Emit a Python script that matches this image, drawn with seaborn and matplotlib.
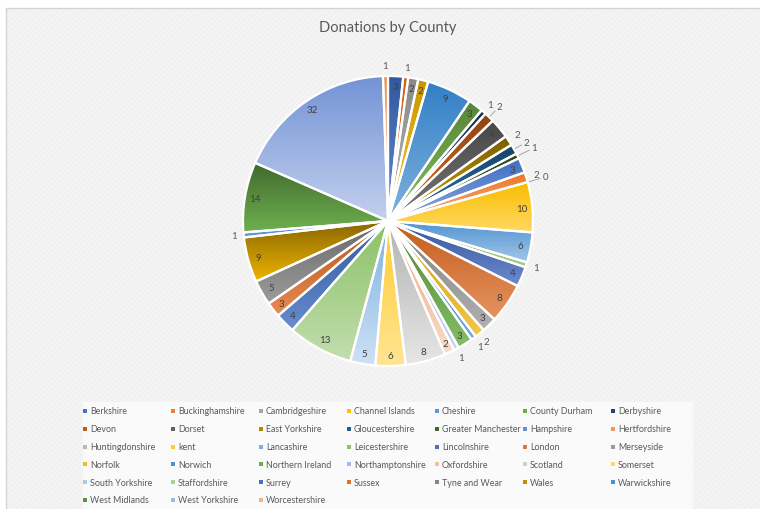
import colorsys
import numpy as np
import seaborn as sns
import matplotlib.pyplot as plt
from matplotlib.patches import Rectangle
from matplotlib.colors import to_rgb

# Donations per county (legend order = slice order, clockwise from 12 o'clock)
counties = [
    "Berkshire", "Buckinghamshire", "Cambridgeshire", "Channel Islands", "Cheshire",
    "County Durham", "Derbyshire", "Devon", "Dorset", "East Yorkshire",
    "Gloucestershire", "Greater Manchester", "Hampshire", "Hertfordshire",
    "Huntingdonshire", "kent", "Lancashire", "Leicestershire", "Lincolnshire",
    "London", "Merseyside", "Norfolk", "Norwich", "Northern Ireland",
    "Northamptonshire", "Oxfordshire", "Scotland", "Somerset", "South Yorkshire",
    "Staffordshire", "Surrey", "Sussex", "Tyne and Wear", "Wales", "Warwickshire",
    "West Midlands", "West Yorkshire", "Worcestershire",
]
donations = [
    3, 1, 2, 2, 9, 3, 1, 2, 4, 2,
    2, 1, 3, 2, 0, 10, 6, 1, 4, 8,
    3, 2, 1, 3, 1, 2, 8, 6, 5, 13,
    4, 3, 5, 9, 1, 14, 32, 1,
]

# Office-style palette (mid tone of each slice's gradient)
palette = [
    "#4472C4", "#ED7D31", "#A5A5A5", "#FFC000", "#5B9BD5", "#70AD47",
    "#264478", "#C05A1A", "#636363", "#B08800", "#255E91", "#43682B",
    "#698ED0", "#F1975A", "#B7B7B7", "#FFCD33", "#7CAFDD", "#8CC168",
    "#4A6FC0", "#E07838", "#9A9A9A", "#F0BA20", "#4D90D8", "#6AAE48",
    "#A5B8E6", "#F6C0A0", "#CFCFCF", "#FFD966", "#A8CBEB", "#A9D18E",
    "#4472C4", "#E0702A", "#858585", "#BF9000", "#4A8FD6", "#5A9040",
    "#9FB5E3", "#F4B183",
]


def shade(c, dl):
    h, l, s = colorsys.rgb_to_hls(*to_rgb(c))
    return np.array(colorsys.hls_to_rgb(h, min(max(l + dl, 0), 1), s))


sns.set_theme(style="white")
plt.rcParams["font.family"] = ["Lato", "DejaVu Sans"]
plt.rcParams["hatch.linewidth"] = 0.6

W, H = 760, 510
fig = plt.figure(figsize=(W / 100, H / 100), dpi=100)
fig.patch.set_facecolor("white")

# chart area background with fine diagonal pattern
x0, ytop = 6 / W, 1 - 9 / H
fig.add_artist(Rectangle((x0, 0), 1 - x0, ytop, transform=fig.transFigure,
                         facecolor="#F1F1F1", edgecolor="#F9F9F9", hatch="//////",
                         linewidth=0, zorder=0))
fig.add_artist(Rectangle((x0, -0.01), 1.01 - x0, ytop + 0.01, transform=fig.transFigure,
                         facecolor="none", edgecolor="#D4D4D4", linewidth=1, zorder=0.5))

# legend panel
fig.add_artist(Rectangle((83 / W, 0), 610 / W, 1 - 403 / H, transform=fig.transFigure,
                         facecolor="#FAFAFA", edgecolor="none", zorder=0.6))

# pie axes: centre (388, 222) px, radius 145 px
cx, cy, r, half = 388, 222, 145, 170
ax = fig.add_axes([(cx - half) / W, (H - cy - half) / H, 2 * half / W, 2 * half / H])
ax.axis("off")

wedges, _ = ax.pie(donations, colors=palette, startangle=90, counterclock=False,
                   radius=1.0, wedgeprops=dict(edgecolor="white", linewidth=1.6))

# vertical gradient in each slice, darker at the top
t = np.linspace(0, 1, 64)[:, None]
for w, c in zip(wedges, palette):
    if w.theta2 - w.theta1 <= 0:
        continue
    top, bot = shade(c, -0.11), shade(c, 0.09)
    img = (top * (1 - t) + bot * t)[:, None, :]
    bb = w.get_path().get_extents()
    im = ax.imshow(img, extent=[bb.x0, bb.x1, bb.y0, bb.y1], origin="upper",
                   interpolation="bilinear", zorder=1)
    im.set_clip_path(w)
    w.set_facecolor("none")
    w.set_zorder(2)

lim = half / r
ax.set_xlim(-lim, lim)
ax.set_ylim(-lim, lim)
ax.set_aspect("equal")

placed = []
for w, v in zip(wedges, donations):
    ang = np.deg2rad((w.theta1 + w.theta2) / 2)
    ca, sa = np.cos(ang), np.sin(ang)
    if v >= 3 or (v == 2 and abs(ca) < 0.5):
        ax.text(0.93 * ca, 0.93 * sa, str(v), ha="center", va="center",
                fontsize=7, color="#404040", zorder=3)
        continue
    rr = 1.07
    while any(abs(rr * ca - px) < 0.042 and abs(rr * sa - py) < 0.065 for px, py in placed):
        rr += 0.03
    placed.append((rr * ca, rr * sa))
    if rr > 1.08:
        ax.plot([1.01 * ca, (rr - 0.04) * ca], [1.01 * sa, (rr - 0.04) * sa],
                color="#A6A6A6", lw=0.7, zorder=3)
    ax.text(rr * ca, rr * sa, str(v), ha="center", va="center",
            fontsize=7, color="#595959", zorder=3)

fig.text(cx / W, 1 - 28 / H, "Donations by County", ha="center", va="center",
         fontsize=10.5, color="#595959")

# legend grid, 7 columns
for i, (name, c) in enumerate(zip(counties, palette)):
    row, col = divmod(i, 7)
    lx = 85 + col * 88
    ly = 412 + row * 17.8
    fig.add_artist(Rectangle(((lx - 2) / W, 1 - (ly + 2) / H), 4 / W, 4 / H,
                             transform=fig.transFigure, facecolor=c,
                             edgecolor="none", zorder=2))
    fig.text((lx + 5) / W, 1 - ly / H, name, ha="left", va="center",
             fontsize=6.4, color="#595959")

fig.savefig("out.png", dpi=100)
